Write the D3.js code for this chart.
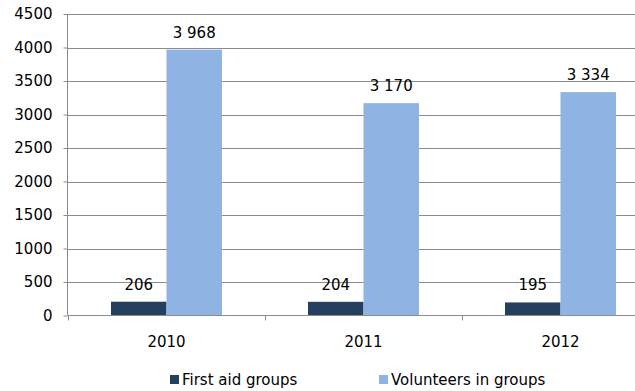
<!DOCTYPE html>
<html>
<head>
<meta charset="utf-8">
<script src="https://cdn.jsdelivr.net/npm/d3@7"></script>
<style>
    body { margin: 0; background: #fff; }
    svg { display: block; }
</style>
</head>
<body>
<div id="chart"></div>
<script>
const years = ["2010", "2011", "2012"]
const seriesNames = ["First aid groups", "Volunteers in groups"]
const firstAidGroups = [206, 204, 195]
const volunteersInGroups = [3968, 3170, 3334]
const yTicks = [0, 500, 1000, 1500, 2000, 2500, 3000, 3500, 4000, 4500]

const width = 635, height = 391
const colors = ["#253f5f", "#8fb4e3"]
const FONT = "DejaVu Sans, Verdana, sans-serif"
const FONT_SIZE = "15px"

let svg = d3.select("#chart").append("svg")
    .attr("width", width)
    .attr("height", height)

let x = d3.scaleBand()
    .domain(years)
    .range([68, 659])

let y = d3.scaleLinear()
    .domain([0, 4500])
    .range([315.5, 14])

let inner = d3.scaleBand()
    .domain(seriesNames)
    .range([0, x.bandwidth()])
    .paddingOuter(0.775)
    .paddingInner(0)

// gridlines
svg.append("g")
    .selectAll("line")
    .data(yTicks.filter(d => d > 0))
    .join("line")
    .attr("x1", 68)
    .attr("x2", width)
    .attr("y1", d => Math.round(y(d)) + 0.5)
    .attr("y2", d => Math.round(y(d)) + 0.5)
    .style("stroke", "#8c8c8c")
    .style("stroke-width", 1)

// bars
let seriesData = [firstAidGroups, volunteersInGroups]
seriesNames.forEach((name, s) => {
    svg.append("g")
        .selectAll("rect")
        .data(years)
        .join("rect")
        .attr("x", (d, i) => x(d) + inner(name))
        .attr("y", (d, i) => y(seriesData[s][i]))
        .attr("width", inner.bandwidth())
        .attr("height", (d, i) => y(0) - y(seriesData[s][i]))
        .style("fill", colors[s])

    svg.append("g")
        .selectAll("text")
        .data(years)
        .join("text")
        .attr("x", (d, i) => x(d) + inner(name) + inner.bandwidth() / 2)
        .attr("y", (d, i) => y(seriesData[s][i]) - 12)
        .attr("text-anchor", "middle")
        .text((d, i) => d3.format(",")(seriesData[s][i]).replace(/,/g, " "))
        .style("font-family", FONT)
        .style("font-size", FONT_SIZE)
        .style("fill", "#000")
})

// y axis
let yAxis = svg.append("g")
    .attr("transform", "translate(67.5, 0)")
    .call(d3.axisLeft(y).tickValues(yTicks).tickSize(4).tickPadding(11).tickFormat(d3.format("d")))
yAxis.select(".domain").attr("d", `M0,14V${y(0)}`)

// x axis
let xAxis = svg.append("g")
    .attr("transform", `translate(0, ${y(0)})`)
    .call(d3.axisBottom(x).tickSize(0).tickPadding(21))
xAxis.select(".domain").attr("d", `M68,0H${width}`)
xAxis.selectAll(".sep")
    .data(years)
    .join("line")
    .attr("class", "sep")
    .attr("x1", d => Math.round(x(d)) + 0.5)
    .attr("x2", d => Math.round(x(d)) + 0.5)
    .attr("y1", 0)
    .attr("y2", 5)
    .style("stroke", "#8c8c8c")

svg.selectAll(".domain, .tick line")
    .style("stroke", "#8c8c8c")
svg.selectAll(".tick text")
    .style("font-family", FONT)
    .style("font-size", FONT_SIZE)
    .style("fill", "#000")

// legend
let legendX = [170, 379]
let legend = svg.append("g")
    .selectAll("g")
    .data(seriesNames)
    .join("g")
    .attr("transform", (d, i) => `translate(${legendX[i]}, 375)`)
legend.append("rect")
    .attr("width", 9)
    .attr("height", 9)
    .style("fill", (d, i) => colors[i])
legend.append("text")
    .attr("x", 12)
    .attr("y", 10)
    .text(d => d)
    .style("font-family", FONT)
    .style("font-size", FONT_SIZE)
    .style("fill", "#000")
</script>
</body>
</html>
